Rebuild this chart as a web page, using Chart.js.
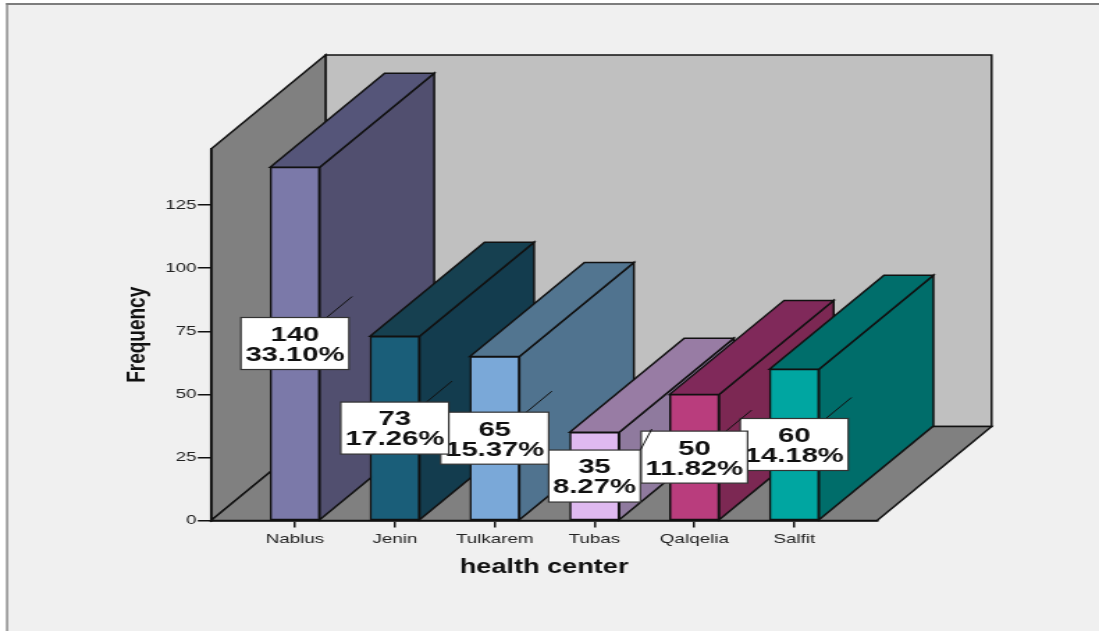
<!DOCTYPE html>
<html>
<head>
<meta charset="utf-8">
<style>
  html, body { margin: 0; padding: 0; background: #fff; overflow: hidden; }
  /* The drawing surface is narrower than the page and widened by CSS, giving the wide lettering */
  canvas { display: block; width: 1099px !important; height: 631px !important; }
</style>
<script src="https://cdn.jsdelivr.net/npm/chart.js@4/dist/chart.umd.min.js"></script>
</head>
<body>
<canvas id="chart" width="790" height="631"></canvas>
<script>
// Frequency of records per health center
const categories = ['Nablus', 'Jenin', 'Tulkarem', 'Tubas', 'Qalqelia', 'Salfit'];
const frequencies = [140, 73, 65, 35, 50, 60];
const percentLabels = ['33.10%', '17.26%', '15.37%', '8.27%', '11.82%', '14.18%'];
const yTickValues = [0, 25, 50, 75, 100, 125];

const frontColors = ['#7b79a9', '#1a5e79', '#7aa8d8', '#dfb9f0', '#b93d7d', '#00a6a1'];
const sideColors  = ['#514f6f', '#133c4e', '#50738f', '#8f7a9e', '#7c2853', '#006d6a'];
const topColors   = ['#555579', '#164050', '#527590', '#987ca4', '#80295a', '#006e6b'];

// Oblique projection of the bar depth, in canvas units
const DEPTH_X = 82.3;
const DEPTH_Y = -94;
const INK = '#111111';

function poly(ctx, pts, fill, lineWidth) {
  ctx.beginPath();
  pts.forEach((p, i) => i ? ctx.lineTo(p[0], p[1]) : ctx.moveTo(p[0], p[1]));
  ctx.closePath();
  if (fill) { ctx.fillStyle = fill; ctx.fill(); }
  ctx.strokeStyle = INK;
  ctx.lineWidth = lineWidth || 1.5;
  ctx.lineJoin = 'miter';
  ctx.stroke();
}

const scene3d = {
  id: 'scene3d',
  // Page panel, frame lines and the box the bars stand in
  beforeDraw(chart) {
    const { ctx, width, height, chartArea: a } = chart;
    ctx.save();
    ctx.fillStyle = '#ffffff';
    ctx.fillRect(0, 0, width, height);
    ctx.fillStyle = '#f0f0f0';
    ctx.fillRect(5, 3, width - 5, height - 3);
    ctx.fillStyle = '#7d7d7d';
    ctx.fillRect(0 + 4.4, 3, 1.3, height - 3);
    ctx.fillRect(4.4, 3, width - 4.4, 2);

    const l = a.left, r = a.right, t = a.top, b = a.bottom;
    const dx = DEPTH_X, dy = DEPTH_Y;
    poly(ctx, [[l + dx, t + dy], [r + dx, t + dy], [r + dx, b + dy], [l + dx, b + dy]], '#c0c0c0');
    poly(ctx, [[l, t], [l + dx, t + dy], [l + dx, b + dy], [l, b]], '#808080');
    poly(ctx, [[l, b], [l + dx, b + dy], [r + dx, b + dy], [r, b]], '#808080');
    ctx.restore();
  },
  // Side and top faces, painted left to right behind the front faces
  beforeDatasetsDraw(chart) {
    const { ctx } = chart;
    const dx = DEPTH_X, dy = DEPTH_Y;
    ctx.save();
    chart.getDatasetMeta(0).data.forEach((bar, i) => {
      const half = bar.width / 2;
      const l = bar.x - half, r = bar.x + half, t = bar.y, b = bar.base;
      poly(ctx, [[r, t], [r + dx, t + dy], [r + dx, b + dy], [r, b]], sideColors[i]);
      poly(ctx, [[l, t], [l + dx, t + dy], [r + dx, t + dy], [r, t]], topColors[i]);
    });
    ctx.restore();
  },
  // Value boxes with their leader lines; earlier bars' boxes sit on top of later ones
  afterDatasetsDraw(chart) {
    const { ctx } = chart;
    const bars = chart.getDatasetMeta(0).data;
    ctx.save();
    ctx.font = 'bold 21px "Liberation Sans", Arial, sans-serif';
    ctx.textAlign = 'center';
    ctx.textBaseline = 'alphabetic';
    for (let i = bars.length - 1; i >= 0; i--) {
      const bar = bars[i];
      const cx = bar.x;
      const cy = (bar.y + bar.base) / 2;
      const w = ctx.measureText(percentLabels[i]).width + 6.4;
      const h = 52;
      const endX = cx + DEPTH_X / 2, endY = cy + DEPTH_Y / 2;
      // The Tubas box is too close to its neighbour for a centred leader
      const fromCorner = categories[i] === 'Tubas';

      ctx.strokeStyle = '#111';
      ctx.lineWidth = 1;
      ctx.beginPath();
      ctx.moveTo(fromCorner ? cx + w / 2 : cx, fromCorner ? cy - h / 2 : cy);
      ctx.lineTo(endX, endY);
      ctx.stroke();

      ctx.fillStyle = '#ffffff';
      ctx.fillRect(cx - w / 2, cy - h / 2, w, h);
      ctx.strokeStyle = '#333';
      ctx.lineWidth = 1.2;
      ctx.strokeRect(cx - w / 2, cy - h / 2, w, h);

      ctx.fillStyle = '#111';
      ctx.fillText(String(frequencies[i]), cx, cy - 2.6);
      ctx.fillText(percentLabels[i], cx, cy + 17.4);
    }
    ctx.restore();
  }
};

new Chart(document.getElementById('chart'), {
  type: 'bar',
  data: {
    datasets: [{
      data: frequencies.map((v, i) => ({ x: i, y: v })),
      backgroundColor: frontColors,
      borderColor: INK,
      borderWidth: 1.5,
      borderSkipped: false,
      barThickness: 35.6
    }]
  },
  plugins: [scene3d],
  options: {
    responsive: false,
    animation: false,
    layout: { padding: { left: 0, right: 159.5, top: 149, bottom: 0 } },
    plugins: { legend: { display: false }, tooltip: { enabled: false } },
    scales: {
      x: {
        type: 'linear',
        offset: false,
        min: -0.84,
        max: 5.83,
        afterBuildTicks(scale) { scale.ticks = categories.map((_, i) => ({ value: i })); },
        afterFit(scale) { scale.height = 110.4; },
        grid: { offset: false, drawOnChartArea: false, color: INK, tickLength: 7, lineWidth: 1.5 },
        border: { display: true, color: INK, width: 1.8 },
        ticks: {
          autoSkip: false, maxRotation: 0, minRotation: 0, padding: 3.5,
          color: '#222',
          font: { family: '"Liberation Sans", Arial, sans-serif', size: 13.5 },
          callback: (value) => categories[value]
        },
        title: {
          display: true, text: 'health center', color: '#111',
          font: { family: '"Liberation Sans", Arial, sans-serif', size: 19.5, weight: 'bold' },
          padding: { top: 0, bottom: 52 }
        }
      },
      y: {
        type: 'linear',
        min: 0,
        max: 147.2,
        afterBuildTicks(scale) { scale.ticks = yTickValues.map((v) => ({ value: v })); },
        afterFit(scale) { scale.width = 151.7; },
        grid: { drawOnChartArea: false, color: INK, tickLength: 9.5, lineWidth: 1.5 },
        border: { display: true, color: INK, width: 1.8 },
        ticks: {
          padding: 1,
          color: '#222',
          font: { family: '"Liberation Sans", Arial, sans-serif', size: 13.5 }
        },
        title: {
          display: true, text: 'Frequency', color: '#111',
          font: { family: '"Liberation Sans", Arial, sans-serif', size: 19, weight: 'bold' },
          padding: { top: 87, bottom: 0 }
        }
      }
    }
  }
});
</script>
</body>
</html>
